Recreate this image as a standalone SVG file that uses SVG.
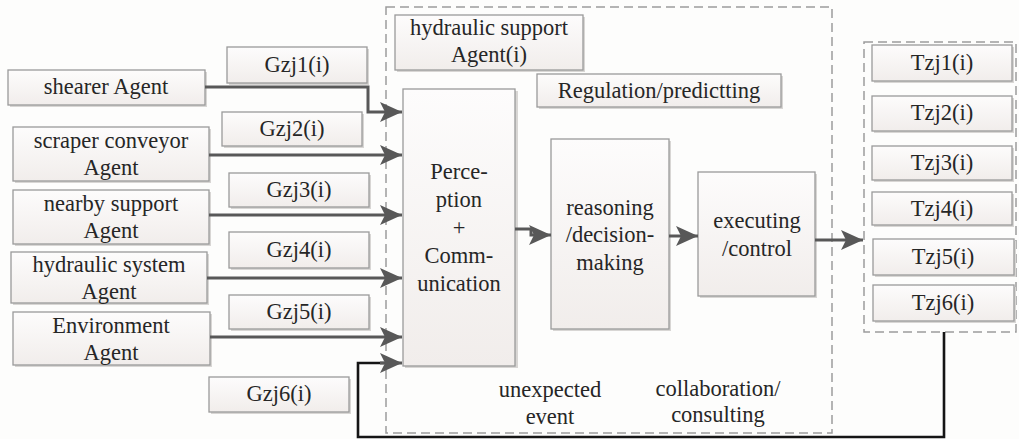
<svg xmlns="http://www.w3.org/2000/svg" width="1019" height="439" viewBox="0 0 1019 439">
  <style>
    .box { fill: url(#boxFill); stroke: #9a9a9a; stroke-width: 1.3; }
    .shadow { fill: #d8d6d4; }
    .lbl { font-family: 'Liberation Serif', Tinos, 'Noto Serif', 'Times New Roman', Times, 'DejaVu Serif', serif; font-size: 22.5px; fill: #262626; text-anchor: middle; }
    .wire { fill: none; stroke: #585858; stroke-width: 3; }
    .feedback { fill: none; stroke: #151515; stroke-width: 2.6; }
    .group { fill: none; stroke: #9c9c9c; stroke-width: 1.5; stroke-dasharray: 9 5; }
  </style>
  <defs>
    <linearGradient id="boxFill" x1="0" y1="0" x2="0" y2="1">
      <stop offset="0" stop-color="#fdfcfc"/>
      <stop offset="1" stop-color="#f1edeb"/>
    </linearGradient>
    <marker id="head" markerUnits="userSpaceOnUse" markerWidth="24" markerHeight="22" refX="22" refY="10" orient="auto" overflow="visible">
      <path d="M0,0 L22,10 L0,20 L5,10 z" fill="#585858"/>
    </marker>
  </defs>

  <rect width="1019" height="439" fill="#fdfdfc"/>

  <!-- dashed groupings -->
  <rect class="group" x="386" y="7" width="446" height="426"/>
  <rect class="group" x="864" y="42" width="152" height="290"/>

  <!-- source agents -->
  <g id="shearer">
    <rect class="shadow" x="10" y="72" width="197" height="35"/>
    <rect class="box" x="8" y="70" width="197" height="35"/>
    <text class="lbl" x="106" y="94">shearer Agent</text>
  </g>
  <g id="scraper">
    <rect class="shadow" x="15" y="129" width="196" height="54"/>
    <rect class="box" x="13" y="127" width="196" height="54"/>
    <text class="lbl" x="111" y="148">scraper conveyor</text>
    <text class="lbl" x="111" y="175">Agent</text>
  </g>
  <g id="nearby">
    <rect class="shadow" x="15" y="192" width="196" height="54"/>
    <rect class="box" x="13" y="190" width="196" height="54"/>
    <text class="lbl" x="111" y="211">nearby support</text>
    <text class="lbl" x="111" y="238">Agent</text>
  </g>
  <g id="hydraulic-system">
    <rect class="shadow" x="13" y="254" width="196" height="51"/>
    <rect class="box" x="11" y="252" width="196" height="51"/>
    <text class="lbl" x="109" y="272">hydraulic system</text>
    <text class="lbl" x="109" y="299">Agent</text>
  </g>
  <g id="environment">
    <rect class="shadow" x="15" y="314" width="197" height="53"/>
    <rect class="box" x="13" y="312" width="197" height="53"/>
    <text class="lbl" x="111" y="333">Environment</text>
    <text class="lbl" x="111" y="360">Agent</text>
  </g>

  <!-- signal labels -->
  <g id="gzj1">
    <rect class="shadow" x="229" y="49" width="140" height="36"/>
    <rect class="box" x="227" y="47" width="140" height="36"/>
    <text class="lbl" x="297" y="72">Gzj1(i)</text>
  </g>
  <g id="gzj2">
    <rect class="shadow" x="224" y="114" width="140" height="34"/>
    <rect class="box" x="222" y="112" width="140" height="34"/>
    <text class="lbl" x="292" y="136">Gzj2(i)</text>
  </g>
  <g id="gzj3">
    <rect class="shadow" x="231" y="175" width="140" height="34"/>
    <rect class="box" x="229" y="173" width="140" height="34"/>
    <text class="lbl" x="299" y="197">Gzj3(i)</text>
  </g>
  <g id="gzj4">
    <rect class="shadow" x="231" y="234" width="140" height="36"/>
    <rect class="box" x="229" y="232" width="140" height="36"/>
    <text class="lbl" x="299" y="257">Gzj4(i)</text>
  </g>
  <g id="gzj5">
    <rect class="shadow" x="231" y="297" width="140" height="34"/>
    <rect class="box" x="229" y="295" width="140" height="34"/>
    <text class="lbl" x="299" y="319">Gzj5(i)</text>
  </g>
  <g id="gzj6">
    <rect class="shadow" x="211" y="379" width="140" height="35"/>
    <rect class="box" x="209" y="377" width="140" height="35"/>
    <text class="lbl" x="279" y="401">Gzj6(i)</text>
  </g>

  <!-- support agent internals -->
  <g id="support-agent">
    <rect class="shadow" x="397" y="17" width="188" height="55"/>
    <rect class="box" x="395" y="15" width="188" height="55"/>
    <text class="lbl" x="489" y="35">hydraulic support</text>
    <text class="lbl" x="489" y="62">Agent(i)</text>
  </g>
  <g id="regulation">
    <rect class="shadow" x="539" y="76" width="244" height="33"/>
    <rect class="box" x="537" y="74" width="244" height="33"/>
    <text class="lbl" x="659" y="98">Regulation/predictting</text>
  </g>
  <g id="perception">
    <rect class="shadow" x="405" y="91" width="113" height="277"/>
    <rect class="box" x="403" y="89" width="112" height="277"/>
    <text class="lbl" x="459" y="179">Perce-</text>
    <text class="lbl" x="459" y="207">ption</text>
    <text class="lbl" x="459" y="235">+</text>
    <text class="lbl" x="459" y="263">Comm-</text>
    <text class="lbl" x="459" y="291">unication</text>
  </g>
  <g id="reasoning">
    <rect class="shadow" x="553" y="141" width="118" height="190"/>
    <rect class="box" x="551" y="139" width="118" height="190"/>
    <text class="lbl" x="610" y="215">reasoning</text>
    <text class="lbl" x="610" y="242">/decision-</text>
    <text class="lbl" x="610" y="270">making</text>
  </g>
  <g id="executing">
    <rect class="shadow" x="700" y="174" width="117" height="124"/>
    <rect class="box" x="698" y="172" width="117" height="124"/>
    <text class="lbl" x="757" y="228">executing</text>
    <text class="lbl" x="757" y="256">/control</text>
  </g>
  <text class="lbl" x="550" y="397">unexpected</text>
  <text class="lbl" x="550" y="424">event</text>
  <text class="lbl" x="718" y="396">collaboration/</text>
  <text class="lbl" x="718" y="422">consulting</text>

  <!-- target outputs -->
  <g id="tzj1">
    <rect class="shadow" x="874" y="47" width="140" height="36"/>
    <rect class="box" x="872" y="45" width="140" height="36"/>
    <text class="lbl" x="942" y="70">Tzj1(i)</text>
  </g>
  <g id="tzj2">
    <rect class="shadow" x="874" y="98" width="140" height="35"/>
    <rect class="box" x="872" y="96" width="140" height="35"/>
    <text class="lbl" x="942" y="120">Tzj2(i)</text>
  </g>
  <g id="tzj3">
    <rect class="shadow" x="874" y="148" width="140" height="34"/>
    <rect class="box" x="872" y="146" width="140" height="34"/>
    <text class="lbl" x="942" y="170">Tzj3(i)</text>
  </g>
  <g id="tzj4">
    <rect class="shadow" x="874" y="194" width="140" height="33"/>
    <rect class="box" x="872" y="192" width="140" height="33"/>
    <text class="lbl" x="942" y="216">Tzj4(i)</text>
  </g>
  <g id="tzj5">
    <rect class="shadow" x="875" y="241" width="141" height="36"/>
    <rect class="box" x="873" y="239" width="141" height="36"/>
    <text class="lbl" x="943" y="264">Tzj5(i)</text>
  </g>
  <g id="tzj6">
    <rect class="shadow" x="875" y="287" width="141" height="36"/>
    <rect class="box" x="873" y="285" width="141" height="36"/>
    <text class="lbl" x="943" y="310">Tzj6(i)</text>
  </g>

  <!-- connectors -->
  <g id="connectors">
    <path class="wire" d="M205,87 H368 V112 H402" marker-end="url(#head)"/>
    <path class="wire" d="M209,155 H402" marker-end="url(#head)"/>
    <path class="wire" d="M209,215 H402" marker-end="url(#head)"/>
    <path class="wire" d="M207,278 H402" marker-end="url(#head)"/>
    <path class="wire" d="M210,337 H402" marker-end="url(#head)"/>
    <path class="feedback" d="M944,332 V437 H358 V363 H384"/>
    <path class="wire" d="M380,363 H402" marker-end="url(#head)"/>
    <path class="wire" d="M515,229 H531 V235 H551" marker-end="url(#head)"/>
    <path class="wire" d="M669,236 H698" marker-end="url(#head)"/>
    <path class="wire" d="M815,240 H863" marker-end="url(#head)"/>
  </g>
</svg>
